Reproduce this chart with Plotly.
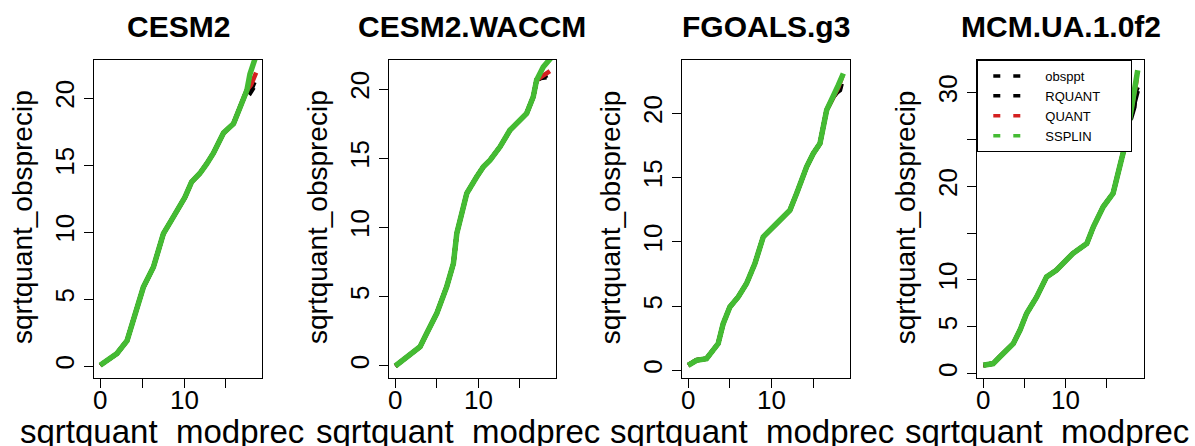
import plotly.graph_objects as go

W, H = 1195, 446
FONT = "Liberation Sans, Arial, sans-serif"

models = ["CESM2", "CESM2.WACCM", "FGOALS.g3", "MCM.UA.1.0f2"]
series_names = ["obsppt", "RQUANT", "QUANT", "SSPLIN"]
series_colors = ["#000000", "#000000", "#d42020", "#44bb33"]

x_tick_vals = [0, 5, 10, 15]
x_tick_text = ["0", "", "10", ""]
y_tick_vals_std = [0, 5, 10, 15, 20]
y_tick_text_std = ["0", "5", "10", "15", "20"]
y_tick_vals_mcm = [0, 5, 10, 15, 20, 25, 30]
y_tick_text_mcm = ["0", "5", "10", "", "20", "", "30"]

x_axis_title = "sqrtquant_modprec"
y_axis_title = "sqrtquant_obsprecip"

# ---- CESM2: shared quantile body, then per-series upper tails ----
cesm2_x = [0.0, 1.0, 2.0, 3.2, 3.96, 4.76, 5.15, 6.35, 7.34, 7.54, 8.5, 9.5, 10.1,
           10.9, 11.9, 12.7, 13.5, 14.7, 15.9, 16.7, 17.5]
cesm2_y = [0.07, 0.5, 0.95, 1.9, 3.4, 4.9, 5.9, 7.4, 9.4, 9.9, 10.9, 11.9, 12.6,
           13.75, 14.4, 15.1, 15.9, 17.4, 18.1, 19.35, 20.6]
cesm2_obsppt_x, cesm2_obsppt_y = [17.9, 18.3], [20.4, 20.8]
cesm2_rquant_x, cesm2_rquant_y = [18.0, 18.4], [20.6, 21.2]
cesm2_quant_x, cesm2_quant_y = [18.0, 18.6], [21.0, 21.9]
cesm2_ssplin_x, cesm2_ssplin_y = [17.86, 18.5], [21.8, 23.0]

# ---- CESM2.WACCM ----
waccm_x = [0.0, 0.96, 2.0, 2.98, 3.78, 4.99, 6.19, 6.99, 7.4, 7.8, 8.6, 9.8, 10.6,
           11.4, 12.6, 13.8, 15.0, 15.8, 16.6, 17.0]
waccm_y = [0.0, 0.43, 0.9, 1.39, 2.36, 3.8, 5.73, 7.4, 9.58, 10.54, 12.47, 13.67, 14.39,
           14.87, 15.83, 17.04, 17.8, 18.24, 19.44, 20.65]
waccm_obsppt_x, waccm_obsppt_y = [17.5, 18.2], [20.8, 20.85]
waccm_rquant_x, waccm_rquant_y = [17.5, 18.3], [20.8, 21.0]
waccm_quant_x, waccm_quant_y = [17.6, 18.6], [20.9, 21.3]
waccm_ssplin_x, waccm_ssplin_y = [17.8, 18.8], [21.6, 22.3]

# ---- FGOALS.g3 ----
fgoals_x = [0.0, 1.0, 2.2, 3.6, 4.2, 5.0, 6.0, 7.0, 8.0, 8.6, 9.0, 10.6, 12.2, 13.0,
            14.2, 15.0, 15.8, 16.6, 17.4]
fgoals_y = [0.39, 0.78, 0.91, 2.08, 3.63, 4.93, 5.71, 6.75, 8.31, 9.6, 10.38, 11.42,
            12.46, 13.76, 15.83, 16.88, 17.65, 20.25, 21.28]
fgoals_obsppt_x, fgoals_obsppt_y = [17.8, 18.2, 18.4], [21.6, 21.8, 22.3]
fgoals_rquant_x, fgoals_rquant_y = [17.9, 18.3], [21.7, 22.1]
fgoals_quant_x, fgoals_quant_y = [18.0, 18.5], [22.0, 22.9]
fgoals_ssplin_x, fgoals_ssplin_y = [18.0, 18.6], [22.2, 23.1]

# ---- MCM.UA.1.0f2 ----
mcm_x = [0.0, 1.2, 2.0, 3.65, 4.46, 5.27, 6.5, 7.7, 8.9, 10.9, 12.6, 13.4, 14.6,
         15.8, 16.6, 17.2, 17.8]
mcm_y = [0.89, 1.07, 1.78, 3.2, 4.63, 6.42, 8.19, 10.33, 11.05, 12.83, 13.9, 15.68,
         17.82, 19.25, 22.1, 24.2, 27.1]
mcm_obsppt_x, mcm_obsppt_y = [18.0, 18.4, 18.5, 18.8], [27.3, 28.5, 30.0, 30.6]
mcm_rquant_x, mcm_rquant_y = [18.1, 18.5, 18.8], [27.8, 29.2, 30.2]
mcm_quant_x, mcm_quant_y = [18.3, 18.7], [29.5, 31.5]
mcm_ssplin_x, mcm_ssplin_y = [18.3, 18.8], [30.0, 32.4]

x_ranges = [[-0.74, 19.3], [-0.76, 19.3], [-0.7, 19.4], [-0.73, 19.6]]
y_ranges = [[-0.88, 22.85], [-0.87, 22.1], [-0.6, 24.15], [-0.47, 33.5]]

panels = [
    (cesm2_x, cesm2_y, [(cesm2_obsppt_x, cesm2_obsppt_y), (cesm2_rquant_x, cesm2_rquant_y),
                        (cesm2_quant_x, cesm2_quant_y), (cesm2_ssplin_x, cesm2_ssplin_y)]),
    (waccm_x, waccm_y, [(waccm_obsppt_x, waccm_obsppt_y), (waccm_rquant_x, waccm_rquant_y),
                        (waccm_quant_x, waccm_quant_y), (waccm_ssplin_x, waccm_ssplin_y)]),
    (fgoals_x, fgoals_y, [(fgoals_obsppt_x, fgoals_obsppt_y), (fgoals_rquant_x, fgoals_rquant_y),
                          (fgoals_quant_x, fgoals_quant_y), (fgoals_ssplin_x, fgoals_ssplin_y)]),
    (mcm_x, mcm_y, [(mcm_obsppt_x, mcm_obsppt_y), (mcm_rquant_x, mcm_rquant_y),
                    (mcm_quant_x, mcm_quant_y), (mcm_ssplin_x, mcm_ssplin_y)]),
]

# layout geometry (pixels)
box_left = [94, 389, 682.3, 977.3]
box_right = [262, 555.7, 850, 1144.3]
box_top, box_bottom = 60, 378
xtitle_center = [162, 458, 752, 1047]

fig = go.Figure()
layout = dict(
    width=W, height=H, margin=dict(l=0, r=0, t=0, b=0),
    paper_bgcolor="white", plot_bgcolor="white",
    font=dict(family=FONT, color="black"),
    showlegend=True,
    annotations=[],
)

ydom = [1 - box_bottom / H, 1 - box_top / H]
widths = [4.5, 4.5, 4.5, 5.5]

for i, (bx, by, tails) in enumerate(panels):
    n = "" if i == 0 else str(i + 1)
    xa, ya = "x" + n, "y" + n
    for k, (tx, ty) in enumerate(tails):
        fig.add_trace(go.Scatter(
            x=bx + tx, y=by + ty, mode="lines", xaxis=xa, yaxis=ya,
            line=dict(color=series_colors[k], width=widths[k]),
            showlegend=False, hoverinfo="skip"))
    axis_common = dict(showline=True, mirror=True, linecolor="black", linewidth=1.2,
                       ticks="outside", ticklen=9, tickwidth=1.2, tickcolor="black",
                       showgrid=False, zeroline=False,
                       tickfont=dict(family=FONT, size=26, color="black"))
    layout["xaxis" + n] = dict(axis_common, domain=[box_left[i] / W, box_right[i] / W],
                               anchor=ya, range=x_ranges[i], tickmode="array",
                               tickvals=x_tick_vals, ticktext=x_tick_text,
                               showticklabels=False)
    # x tick labels placed as text at the tick values, closer to the axis (R style)
    for tv, tt in zip(x_tick_vals, x_tick_text):
        if tt:
            layout["annotations"].append(dict(
                text=tt, x=tv, xref=xa, y=1 - 400 / H, yref="paper",
                xanchor="center", yanchor="middle", showarrow=False,
                font=dict(family=FONT, size=26, color="black")))
    yv, yt = (y_tick_vals_mcm, y_tick_text_mcm) if i == 3 else (y_tick_vals_std, y_tick_text_std)
    layout["yaxis" + n] = dict(axis_common, domain=ydom, anchor=xa, range=y_ranges[i],
                               tickmode="array", tickvals=yv, ticktext=yt, tickangle=-90)
    cx = (box_left[i] + box_right[i]) / 2
    layout["annotations"].append(dict(
        text="<b>" + models[i] + "</b>", x=cx / W, y=1 - 27 / H, xref="paper", yref="paper",
        xanchor="center", yanchor="middle", showarrow=False,
        font=dict(family=FONT, size=30, color="black")))
    layout["annotations"].append(dict(
        text=y_axis_title, x=(box_left[i] - 71) / W, y=1 - 217 / H, xref="paper", yref="paper",
        xanchor="center", yanchor="middle", textangle=-90, showarrow=False,
        font=dict(family=FONT, size=28, color="black")))
    layout["annotations"].append(dict(
        text=x_axis_title, x=xtitle_center[i] / W, y=1 - 431 / H, xref="paper", yref="paper",
        xanchor="center", yanchor="middle", showarrow=False,
        font=dict(family=FONT, size=33, color="black")))

# legend entries (panel 4); trailing no-break spaces widen the box like the R legend
for k in range(4):
    fig.add_trace(go.Scatter(
        x=[None], y=[None], mode="lines", xaxis="x4", yaxis="y4",
        name=series_names[k] + "\u00a0" * 7,
        line=dict(color=series_colors[k], width=3.5, dash="0px,10px,7px,13px,7px,80px"),
        showlegend=True))

layout["legend"] = dict(x=box_left[3] / W, y=1 - box_top / H, xanchor="left", yanchor="top",
                        bgcolor="white", bordercolor="black", borderwidth=1,
                        font=dict(family=FONT, size=13, color="black"),
                        itemwidth=57, tracegroupgap=0)

fig.update_layout(**layout)
fig.write_html("out.html")
